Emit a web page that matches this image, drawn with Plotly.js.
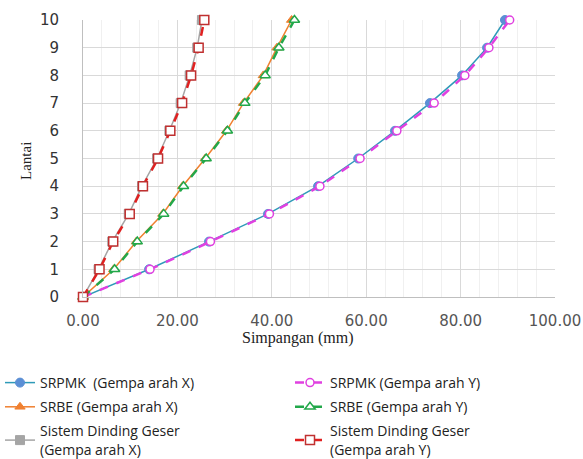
<!DOCTYPE html>
<html><head><meta charset="utf-8">
<script src="https://cdn.plot.ly/plotly-3.0.1.min.js"></script>
<style>html,body{margin:0;padding:0;background:#fff;}</style>
</head><body>
<div id="chart" style="width:583px;height:459px;"></div>
<script>
const lantai = [0,1,2,3,4,5,6,7,8,9,10];
const srpmkX = [0,14.0,26.7,39.2,49.8,58.3,66.1,73.5,80.3,85.6,89.4];
const srpmkY = [0,14.2,27.0,39.5,50.2,58.7,66.5,74.4,80.9,86.0,90.4];
const srbeX  = [0,6.5,11.3,16.9,21.1,25.9,30.4,34.0,38.2,41.1,44.2];
const srbeY  = [0,6.7,11.5,17.1,21.3,26.1,30.6,34.3,38.6,41.5,44.8];
const sdgX   = [0,3.3,6.2,9.7,12.5,15.7,18.3,20.7,22.6,24.2,25.2];
const sdgY   = [0,3.5,6.4,9.9,12.7,15.9,18.5,21.0,22.9,24.5,25.7];
const names = ["SRPMK  (Gempa arah X)","SRPMK (Gempa arah Y)","SRBE (Gempa arah X)","SRBE (Gempa arah Y)","Sistem Dinding Geser<br>(Gempa arah X)","Sistem Dinding Geser<br>(Gempa arah Y)"];
const xTicks = [0,20,40,60,80,100];
const yTicks = [0,1,2,3,4,5,6,7,8,9,10];

const base = {mode:'lines+markers',cliponaxis:false};
const traces = [
 {...base,x:srpmkX,y:lantai,name:names[0],legend:'legend',legendgroup:'a',line:{color:'#2E9AB8',width:1.5},marker:{symbol:'circle',size:9,color:'#5B8FD5',line:{color:'#5B8FD5',width:1}}},
 {...base,x:srpmkY,y:lantai,name:names[1],legend:'legend2',legendgroup:'b',line:{color:'#E040E0',width:2.5,dash:'dash'},marker:{symbol:'circle',size:8,color:'#fff',line:{color:'#E040E0',width:1.5}}},
 {...base,x:srbeX,y:lantai,name:names[2],legend:'legend',legendgroup:'c',line:{color:'#F08030',width:1.5},marker:{symbol:'triangle-up',size:9,color:'#F08030',line:{color:'#F08030',width:1}}},
 {...base,x:srbeY,y:lantai,name:names[3],legend:'legend2',legendgroup:'d',line:{color:'#22A84A',width:2.5,dash:'dash'},marker:{symbol:'triangle-up',size:9,color:'#fff',line:{color:'#22A84A',width:1.5}}},
 {...base,x:sdgX,y:lantai,name:names[4],legend:'legend',legendgroup:'e',line:{color:'#A5A5A5',width:1.5},marker:{symbol:'square',size:9,color:'#A5A5A5',line:{color:'#A5A5A5',width:1}}},
 {...base,x:sdgY,y:lantai,name:names[5],legend:'legend2',legendgroup:'f',line:{color:'#E02020',width:2.5,dash:'dash'},marker:{symbol:'square',size:9,color:'#fff',line:{color:'#C03030',width:1.5}}}
];

const legFont = {family:'Open Sans, Liberation Sans, sans-serif',size:14,color:'#222'};
const legCommon = {orientation:'v',xref:'container',yref:'container',xanchor:'left',yanchor:'top',
  y:1-367/459,tracegroupgap:3,itemwidth:30,font:legFont,bgcolor:'rgba(0,0,0,0)'};

const serif = {family:'Liberation Serif, Times New Roman, serif',size:16,color:'#222'};
const layout = {
 width:583,height:459,
 margin:{l:83,r:28,t:20,b:162,autoexpand:false},
 paper_bgcolor:'#fff',plot_bgcolor:'#fff',
 showlegend:true,
 legend:{...legCommon,x:0},
 legend2:{...legCommon,x:290/583},
 xaxis:{range:[0,100],tickvals:xTicks,ticktext:xTicks.map(v=>v.toFixed(2)),
   showgrid:true,gridcolor:'#D9D9D9',gridwidth:1,
   minor:{dtick:4,showgrid:true,gridcolor:'#F0F0F0',gridwidth:1},
   showline:true,linecolor:'#BFBFBF',zeroline:false,ticks:'outside',ticklen:10,tickcolor:'rgba(0,0,0,0)',
   tickfont:{family:'DejaVu Sans, Verdana, sans-serif',size:15,color:'#555'}},
 yaxis:{range:[0,10],tickvals:yTicks,
   showgrid:true,gridcolor:'#D9D9D9',gridwidth:1,
   showline:true,linecolor:'#BFBFBF',zeroline:false,ticks:'outside',ticklen:20,tickcolor:'rgba(0,0,0,0)',
   tickfont:{family:'DejaVu Sans, Verdana, sans-serif',size:15,color:'#333'}},
 annotations:[
  {text:'Simpangan (mm)',xref:'paper',yref:'paper',x:(298-83)/472,y:-(338-297)/277,
   xanchor:'center',yanchor:'middle',showarrow:false,font:serif},
  {text:'Lantai',xref:'paper',yref:'paper',x:-(83-26)/472,y:(297-161)/277,textangle:-90,
   xanchor:'center',yanchor:'middle',showarrow:false,font:{...serif,size:15}}]
};
Plotly.newPlot('chart',traces,layout,{displayModeBar:false,staticPlot:true});
</script>
</body></html>
